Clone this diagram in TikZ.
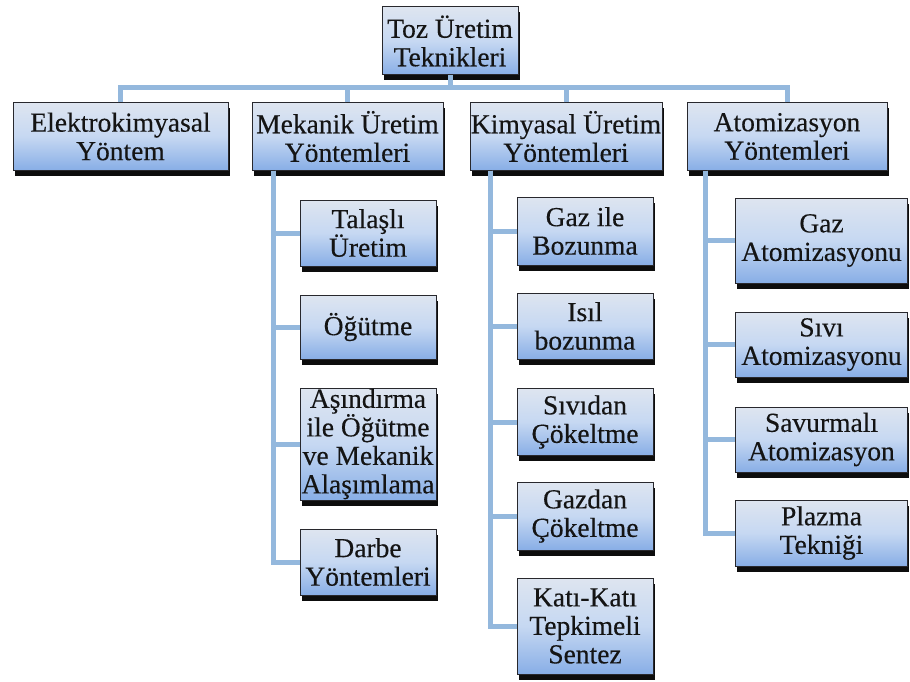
\documentclass[tikz,border=0pt]{standalone}
\usepackage{fontspec}
\setmainfont{Liberation Serif}
\newfontfamily\boxfont{Liberation Serif}[FakeBold=0.3]
\usetikzlibrary{shadows}
\definecolor{boxtop}{RGB}{222,229,240}
\definecolor{boxmid}{RGB}{198,216,242}
\definecolor{boxbot}{RGB}{136,174,230}
\definecolor{boxline}{RGB}{40,40,45}
\definecolor{wire}{RGB}{148,184,221}
\tikzset{
  box/.style={rectangle, draw=boxline, line width=1pt,
    top color=boxtop, bottom color=boxbot, middle color=boxmid,
    drop shadow={shadow xshift=1.5pt, shadow yshift=-5.5pt, fill=black, opacity=0.95},
    align=center, inner sep=0pt, text=black!92,
    font=\boxfont\fontsize{27.5}{28.5}\selectfont},
  link/.style={draw=wire, line width=5pt}
}
\begin{document}
\begin{tikzpicture}[x=1pt, y=-1pt]
\useasboundingbox (0,0) rectangle (910,682);

% top level
\node[box, minimum width=136pt, minimum height=68pt] (root) at (450,41) {Toz Üretim\\Teknikleri};

% main branches
\node[box, minimum width=215pt, minimum height=67pt] (elek) at (120.5,136.5) {Elektrokimyasal\\Yöntem};
\node[box, minimum width=191pt, minimum height=67pt] (mek)  at (347.5,136.5) {Mekanik Üretim\\Yöntemleri};
\node[box, minimum width=192pt, minimum height=67pt] (kim)  at (566,136.5) {Kimyasal Üretim\\Yöntemleri};
\node[box, minimum width=200pt, minimum height=67pt] (atom) at (787,136.5) {Atomizasyon\\Yöntemleri};

% mechanical methods
\node[box, minimum width=136pt, minimum height=66pt]  (tal) at (368,233) {Talaşlı\\Üretim};
\node[box, minimum width=136pt, minimum height=64pt]  (ogu) at (368,327) {Öğütme};
\node[box, minimum width=136pt, minimum height=112pt] (asi) at (368,444) {Aşındırma\\ile Öğütme\\ve Mekanik\\Alaşımlama};
\node[box, minimum width=136pt, minimum height=66pt]  (dar) at (368,562) {Darbe\\Yöntemleri};

% chemical methods
\node[box, minimum width=136pt, minimum height=68pt] (gib) at (585,231) {Gaz ile\\Bozunma};
\node[box, minimum width=136pt, minimum height=66pt] (isi) at (585,326) {Isıl\\bozunma};
\node[box, minimum width=136pt, minimum height=67pt] (siv) at (585,422) {Sıvıdan\\Çökeltme};
\node[box, minimum width=136pt, minimum height=68pt] (gzc) at (585,516) {Gazdan\\Çökeltme};
\node[box, minimum width=136pt, minimum height=96pt] (kat) at (585,626) {Katı-Katı\\Tepkimeli\\Sentez};

% atomization methods
\node[box, minimum width=172pt, minimum height=85pt] (gat) at (821.5,240.5) {Gaz\\Atomizasyonu};
\node[box, minimum width=172pt, minimum height=65pt] (sat) at (821.5,344.5) {Sıvı\\Atomizasyonu};
\node[box, minimum width=172pt, minimum height=65pt] (vat) at (821.5,439.5) {Savurmalı\\Atomizasyon};
\node[box, minimum width=172pt, minimum height=66pt] (pla) at (821.5,533) {Plazma\\Tekniği};

% trunk coordinates
\coordinate (bus) at (450,88);
\coordinate (mt) at (273,0);
\coordinate (kt) at (490,0);
\coordinate (at) at (705,0);

% connectors: top level bus
\draw[link] (root.south) -- (bus);
\draw[link] (elek.north) |- (bus);
\draw[link] (mek.north)  |- (bus);
\draw[link] (kim.north)  |- (bus);
\draw[link] (atom.north) |- (bus);

% connectors: mechanical
\draw[link] (mek.south -| mt) |- (tal.west);
\draw[link] (mek.south -| mt) |- (ogu.west);
\draw[link] (mek.south -| mt) |- (asi.west);
\draw[link] (mek.south -| mt) |- (dar.west);

% connectors: chemical
\draw[link] (kim.south -| kt) |- (gib.west);
\draw[link] (kim.south -| kt) |- (isi.west);
\draw[link] (kim.south -| kt) |- (siv.west);
\draw[link] (kim.south -| kt) |- (gzc.west);
\draw[link] (kim.south -| kt) |- (kat.west);

% connectors: atomization
\draw[link] (atom.south -| at) |- (gat.west);
\draw[link] (atom.south -| at) |- (sat.west);
\draw[link] (atom.south -| at) |- (vat.west);
\draw[link] (atom.south -| at) |- (pla.west);
\end{tikzpicture}
\end{document}
